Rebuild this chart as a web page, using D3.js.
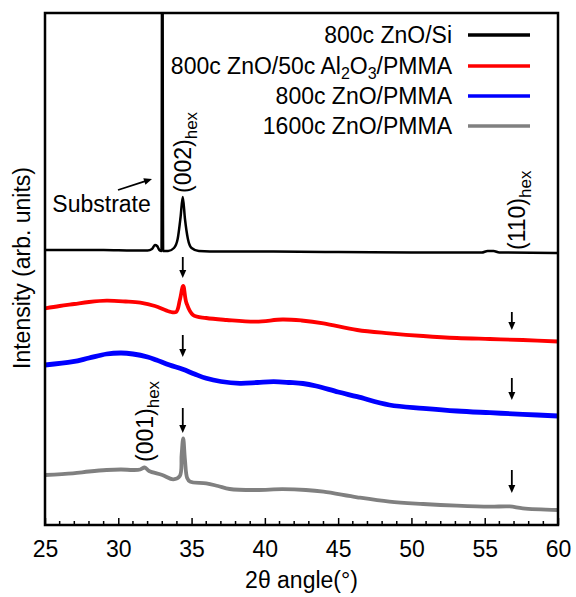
<!DOCTYPE html>
<html>
<head>
<meta charset="utf-8">
<script src="https://cdn.jsdelivr.net/npm/d3@7"></script>
<style>
  body { margin: 0; background: #fff; }
  text { font-family: "Liberation Sans", Arial, Helvetica, sans-serif; }
</style>
</head>
<body>
<div id="chart"></div>
<script>
const width = 576, height = 597;
const margin = {top: 13, right: 18, bottom: 72, left: 45};

// x range and ticks
const xMin = 25, xMax = 60;
const xTicks = [25, 30, 35, 40, 45, 50, 55, 60];

// [2theta, intensity] (arb. units, curves already offset)
const znoSi = [
  [25, 275], [27, 275], [29, 275], [31, 274.5], [32.0, 274.5], [32.3, 276],
  [32.5, 280], [32.65, 279], [32.8, 275], [32.95, 274], [33.0, 700], [33.06, 274],
  [33.4, 274], [33.8, 277], [34.05, 286], [34.25, 308], [34.4, 328], [34.55, 306],
  [34.75, 286], [35.0, 277], [35.5, 274], [37, 273.5], [40, 273.5], [45, 273],
  [50, 272.5], [54.8, 272.5], [55.2, 274], [55.6, 274], [56.0, 272.5], [60, 272]
];
const znoAl = [
  [25, 216.7], [26, 219], [27, 221], [28, 223], [29.2, 224.3], [30.5, 223.5],
  [31.5, 222.3], [32.5, 219], [33.5, 213.3], [33.95, 213], [34.2, 225], [34.43, 239],
  [34.65, 222], [35.1, 210], [36, 207], [37.4, 205], [39.4, 203.3], [41.2, 205.5],
  [42.5, 204.5], [44, 201.7], [46.3, 195], [48.5, 191.7], [50.8, 189], [53.1, 187],
  [55.35, 186], [57.6, 185], [60, 183.5]
];
const zno800 = [
  [25, 160], [26.9, 163.3], [28, 167], [29.2, 171], [30.2, 172], [31, 171], [32, 168],
  [32.6, 165], [33.5, 160], [34.4, 155.7], [35.2, 151], [36, 146.7], [37, 143.5],
  [38.3, 141.7], [39.5, 142.5], [40.6, 143.3], [41.7, 142.5], [42.6, 141.5], [43.5, 139],
  [45, 133], [46.3, 128.3], [48.5, 120], [50.8, 116.7], [53.1, 114], [55.35, 112.3],
  [57.6, 110.7], [60, 109]
];
const zno1600 = [
  [25, 50], [26.9, 51.7], [28, 53.5], [29.2, 55], [30.2, 55.5], [31, 55], [31.5, 55.5],
  [31.8, 57.5], [32.1, 54], [33, 50], [33.75, 45.7], [34.2, 49], [34.32, 70],
  [34.43, 86.7], [34.55, 65], [34.7, 47], [34.9, 43.3], [36, 41.7], [36.8, 39],
  [37.6, 36], [39.4, 35], [41.2, 35.8], [42.8, 35], [44, 33.3], [46.3, 27.7],
  [48.5, 23.3], [50.8, 21], [53.1, 19.3], [55.35, 18.3], [56.7, 18.6], [57.6, 16.7],
  [60, 15]
];

const seriesNames = ["800c ZnO/Si", "800c ZnO/50c Al2O3/PMMA", "800c ZnO/PMMA", "1600c ZnO/PMMA"];
const seriesColors = ["#000000", "#ff0000", "#0000ff", "#808080"];
const seriesData = [znoSi, znoAl, zno800, zno1600];
const seriesWidth = [2.5, 3.8, 4.8, 3.8];

// peak marker arrows: [2theta, from, to]
const arrows = [
  [34.4, 268, 247], [34.4, 190, 168], [34.4, 117, 92],
  [56.85, 213, 195], [56.85, 147, 125], [56.85, 55, 32]
];

const svg = d3.select("#chart").append("svg")
  .attr("width", width).attr("height", height);

const x = d3.scaleLinear().domain([xMin, xMax]).range([margin.left, width - margin.right]);
const y = d3.scaleLinear().domain([0, 512]).range([height - margin.bottom, margin.top]);

svg.append("defs").append("clipPath").attr("id", "clip")
  .append("rect")
  .attr("x", x(xMin)).attr("y", y(512))
  .attr("width", x(xMax) - x(xMin)).attr("height", y(0) - y(512));

// smooth curves for the film scans, monotone for the sharp Si one
const line = d3.line()
  .x(d => x(d[0]))
  .y(d => y(d[1]))
  .curve(d3.curveCatmullRom.alpha(0.5));
const lineSharp = d3.line()
  .x(d => x(d[0]))
  .y(d => y(d[1]))
  .curve(d3.curveMonotoneX);

const plot = svg.append("g").attr("clip-path", "url(#clip)");

// draw back to front: gray, blue, red, black
for (let i = seriesData.length - 1; i >= 0; i--) {
  plot.append("path")
    .datum(seriesData[i])
    .attr("fill", "none")
    .attr("stroke", seriesColors[i])
    .attr("stroke-width", seriesWidth[i])
    .attr("stroke-linejoin", "round")
    .attr("d", i === 0 ? lineSharp : line);
}

// bottom axis, ticks inside
const xAxis = d3.axisBottom(x).tickValues(xTicks).tickSize(-7).tickPadding(16)
  .tickFormat(d3.format("d"));
const gx = svg.append("g")
  .attr("transform", "translate(0," + y(0) + ")")
  .call(xAxis);
gx.select(".domain").remove();
gx.selectAll(".tick line").attr("stroke-width", 1.5);
gx.selectAll(".tick text").attr("font-size", 23).attr("fill", "#000")
  .attr("font-family", "Liberation Sans, Arial, sans-serif");

const minor = d3.range(xMin, xMax + 1, 1).filter(v => v % 5 !== 0);
svg.append("g").selectAll("line")
  .data(minor)
  .join("line")
  .attr("x1", d => x(d)).attr("x2", d => x(d))
  .attr("y1", y(0)).attr("y2", y(0) - 4)
  .attr("stroke", "#000").attr("stroke-width", 1.5);

// frame
svg.append("rect")
  .attr("x", x(xMin)).attr("y", y(512))
  .attr("width", x(xMax) - x(xMin)).attr("height", y(0) - y(512))
  .attr("fill", "none").attr("stroke", "#000").attr("stroke-width", 2.5);

// axis titles
svg.append("text")
  .attr("x", (x(xMin) + x(xMax)) / 2).attr("y", 588)
  .attr("text-anchor", "middle").attr("font-size", 23)
  .text("2\u03B8 angle(\u00B0)");

svg.append("text")
  .attr("transform", "translate(30," + 268 + ") rotate(-90)")
  .attr("text-anchor", "middle").attr("font-size", 23)
  .text("Intensity (arb. units)");

// arrows
function arrowHead(x0, y0, dx, dy) {
  // triangle pointing along (dx, dy)
  const len = Math.hypot(dx, dy), ux = dx / len, uy = dy / len;
  const hl = 8, hw = 3.5;
  const bx = x0 - ux * hl, by = y0 - uy * hl;
  return [[x0, y0], [bx - uy * hw, by + ux * hw], [bx + uy * hw, by - ux * hw]];
}

const ga = svg.append("g");
arrows.forEach(a => {
  const ax = x(a[0]), y1 = y(a[1]), y2 = y(a[2]);
  ga.append("line")
    .attr("x1", ax).attr("x2", ax).attr("y1", y1).attr("y2", y2 - 6)
    .attr("stroke", "#000").attr("stroke-width", 1.8);
  ga.append("polygon")
    .attr("points", arrowHead(ax, y2, 0, 1).map(p => p.join(",")).join(" "))
    .attr("fill", "#000");
});

// substrate label + arrow
const sub0 = [29.98, 335], sub1 = [32.3, 346];
const sx0 = x(sub0[0]), sy0 = y(sub0[1]), sx1 = x(sub1[0]), sy1 = y(sub1[1]);
ga.append("line")
  .attr("x1", sx0).attr("y1", sy0)
  .attr("x2", sx1 - (sx1 - sx0) * 0.15).attr("y2", sy1 - (sy1 - sy0) * 0.15)
  .attr("stroke", "#000").attr("stroke-width", 1.8);
ga.append("polygon")
  .attr("points", arrowHead(sx1, sy1, sx1 - sx0, sy1 - sy0).map(p => p.join(",")).join(" "))
  .attr("fill", "#000");
svg.append("text")
  .attr("x", x(25.5)).attr("y", y(313))
  .attr("font-size", 23)
  .text("Substrate");

// rotated peak labels
const peakLabels = [["(002)", 34.95, 332], ["(110)", 57.75, 275], ["(001)", 32.4, 63]];
peakLabels.forEach(p => {
  const t = svg.append("text")
    .attr("transform", "translate(" + x(p[1]) + "," + y(p[2]) + ") rotate(-90)")
    .attr("font-size", 23);
  t.append("tspan").text(p[0]);
  t.append("tspan").attr("font-size", 17).attr("dy", 6).text("hex");
});

// legend
const legY = [43, 74, 104, 134];
const leg = svg.append("g");
seriesNames.forEach((name, i) => {
  const t = leg.append("text")
    .attr("x", 452).attr("y", legY[i])
    .attr("text-anchor", "end").attr("font-size", 23);
  if (name.indexOf("Al2O3") >= 0) {
    t.append("tspan").text("800c ZnO/50c Al");
    t.append("tspan").attr("font-size", 16).attr("dy", 5).text("2");
    t.append("tspan").attr("dy", -5).text("O");
    t.append("tspan").attr("font-size", 16).attr("dy", 5).text("3");
    t.append("tspan").attr("dy", -5).text("/PMMA");
  } else {
    t.text(name);
  }
  leg.append("line")
    .attr("x1", 468).attr("x2", 530)
    .attr("y1", legY[i] - 8).attr("y2", legY[i] - 8)
    .attr("stroke", seriesColors[i]).attr("stroke-width", 3.5);
});
</script>
</body>
</html>
